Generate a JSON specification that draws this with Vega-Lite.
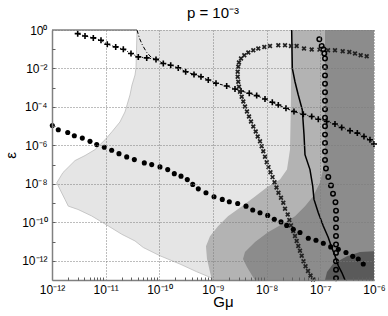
{
 "$schema": "https://vega.github.io/schema/vega-lite/v6.json",
 "width": 322, "height": 250,
 "autosize": {"type": "none"},
 "padding": {"left": 52, "top": 30, "right": 14, "bottom": 36},
 "background": "white",
 "config": {
  "view": {"stroke": null},
  "font": "Liberation Sans",
  "axis": {
   "labelFontSize": 12, "labelColor": "black", "labelFont": "Liberation Sans", "labelOverlap": false, "labelFlush": false, "labelBound": false,
   "domainColor": "#808080", "domainWidth": 1.5,
   "ticks": false,
   "grid": true, "gridColor": "#7a7a7a", "gridDash": [1, 2], "gridWidth": 1,
   "titleFontSize": 15, "titleFontWeight": "normal", "titleColor": "black", "titleFont": "Liberation Sans"
  }
 },
 "title": {"text": "p = 10⁻³", "fontSize": 15, "fontWeight": "normal", "font": "Liberation Sans", "anchor": "middle", "frame": "group", "offset": 9, "dy": 18, "baseline": "alphabetic", "color": "black"},
 "resolve": {"axis": {"x": "independent", "y": "independent"}},
 "datasets": {
  "light": [
   {"lg": -10.416, "le": 0}, {"lg": -10.425, "le": -1.05}, {"lg": -10.435, "le": -1.98}, {"lg": -10.453, "le": -2.34},
   {"lg": -10.509, "le": -2.86}, {"lg": -10.547, "le": -3.38}, {"lg": -10.640, "le": -4.26}, {"lg": -10.733, "le": -4.78},
   {"lg": -10.882, "le": -5.29}, {"lg": -11.012, "le": -5.71}, {"lg": -11.199, "le": -6.22}, {"lg": -11.385, "le": -6.53},
   {"lg": -11.571, "le": -6.79}, {"lg": -11.795, "le": -7.41}, {"lg": -11.912, "le": -7.95}, {"lg": -11.851, "le": -8.29},
   {"lg": -11.758, "le": -8.81}, {"lg": -11.696, "le": -9.16}, {"lg": -11.516, "le": -9.33}, {"lg": -11.260, "le": -9.67},
   {"lg": -10.951, "le": -10.19}, {"lg": -10.701, "le": -10.62}, {"lg": -10.453, "le": -10.97}, {"lg": -10.299, "le": -11.31},
   {"lg": -9.988, "le": -11.74}, {"lg": -9.615, "le": -12.17}, {"lg": -9.304, "le": -12.57}, {"lg": -9.056, "le": -12.86},
   {"lg": -8.963, "le": -13}
  ],
  "medium": [
   {"lg": -7.547, "le": 0}, {"lg": -7.547, "le": -3.64}, {"lg": -7.565, "le": -6.22}, {"lg": -7.621, "le": -7.26},
   {"lg": -7.752, "le": -7.78}, {"lg": -7.975, "le": -8.14}, {"lg": -8.217, "le": -8.66}, {"lg": -8.460, "le": -9.17},
   {"lg": -8.721, "le": -9.69}, {"lg": -8.907, "le": -10.21}, {"lg": -9.056, "le": -10.72}, {"lg": -9.131, "le": -11.24},
   {"lg": -9.112, "le": -11.91}, {"lg": -9.056, "le": -12.59}, {"lg": -9.019, "le": -13}
  ],
  "dark": [
   {"lg": -6.913, "le": 0}, {"lg": -6.913, "le": -6.22}, {"lg": -6.950, "le": -7.26}, {"lg": -7.006, "le": -7.93},
   {"lg": -7.137, "le": -8.66}, {"lg": -7.286, "le": -9.17}, {"lg": -7.472, "le": -9.69}, {"lg": -7.714, "le": -10.10},
   {"lg": -7.975, "le": -10.52}, {"lg": -8.217, "le": -11.03}, {"lg": -8.404, "le": -11.55}, {"lg": -8.441, "le": -11.91},
   {"lg": -8.367, "le": -12.33}, {"lg": -8.255, "le": -12.85}, {"lg": -8.217, "le": -13}
  ],
  "darkest": [
   {"lg": -6.0, "le": -11.50}, {"lg": -6.261, "le": -11.55}, {"lg": -6.503, "le": -11.76}, {"lg": -6.764, "le": -12.17},
   {"lg": -6.876, "le": -12.59}, {"lg": -6.913, "le": -13}
  ],
  "topedge": [{"lg": -12, "lg2": -10.416, "le": 0}],
  "solid": [
   {"lg": -7.534, "le": 0}, {"lg": -7.522, "le": -2.00}, {"lg": -7.472, "le": -2.69}, {"lg": -7.411, "le": -3.38},
   {"lg": -7.336, "le": -4.15}, {"lg": -7.304, "le": -5.45}, {"lg": -7.286, "le": -6.48}, {"lg": -7.193, "le": -7.26},
   {"lg": -7.142, "le": -8.12}, {"lg": -7.118, "le": -8.81}, {"lg": -7.038, "le": -9.50}, {"lg": -6.945, "le": -10.19},
   {"lg": -6.852, "le": -10.79}, {"lg": -6.788, "le": -11.31}, {"lg": -6.727, "le": -11.74}, {"lg": -6.665, "le": -12.26},
   {"lg": -6.602, "le": -12.60}, {"lg": -6.540, "le": -13}
  ],
  "dashed": [
   {"lg": -10.416, "le": 0}, {"lg": -10.370, "le": -0.43}, {"lg": -10.314, "le": -0.79}, {"lg": -10.239, "le": -1.15},
   {"lg": -10.155, "le": -1.41}, {"lg": -10.062, "le": -1.54}
  ],
  "plus": [
   {"lg": -11.521, "le": -0.19}, {"lg": -11.385, "le": -0.31}, {"lg": -11.230, "le": -0.41}, {"lg": -11.087, "le": -0.53},
   {"lg": -10.970, "le": -0.74}, {"lg": -10.813, "le": -0.88}, {"lg": -10.671, "le": -1.00}, {"lg": -10.528, "le": -1.22},
   {"lg": -10.392, "le": -1.40}, {"lg": -10.235, "le": -1.45}, {"lg": -10.062, "le": -1.53}, {"lg": -9.926, "le": -1.74},
   {"lg": -9.788, "le": -1.83}, {"lg": -9.647, "le": -1.97}, {"lg": -9.509, "le": -2.17}, {"lg": -9.354, "le": -2.31},
   {"lg": -9.224, "le": -2.43}, {"lg": -9.088, "le": -2.60}, {"lg": -8.944, "le": -2.77}, {"lg": -8.745, "le": -2.91},
   {"lg": -8.590, "le": -3.07}, {"lg": -8.478, "le": -3.17}, {"lg": -8.324, "le": -3.29}, {"lg": -8.186, "le": -3.41},
   {"lg": -8.031, "le": -3.59}, {"lg": -7.895, "le": -3.76}, {"lg": -7.783, "le": -3.90}, {"lg": -7.640, "le": -4.07},
   {"lg": -7.491, "le": -4.24}, {"lg": -7.317, "le": -4.38}, {"lg": -7.161, "le": -4.50}, {"lg": -7.038, "le": -4.64},
   {"lg": -6.881, "le": -4.76}, {"lg": -6.727, "le": -4.89}, {"lg": -6.602, "le": -5.07}, {"lg": -6.447, "le": -5.24},
   {"lg": -6.311, "le": -5.36}, {"lg": -6.187, "le": -5.54}, {"lg": -6.075, "le": -5.71}, {"lg": -6.0, "le": -5.93}
  ],
  "xs": [
   {"lg": -6.136, "le": -1.36}, {"lg": -6.248, "le": -1.31}, {"lg": -6.354, "le": -1.22}, {"lg": -6.460, "le": -1.14},
   {"lg": -6.583, "le": -1.10}, {"lg": -6.727, "le": -1.05}, {"lg": -6.857, "le": -1.05}, {"lg": -7.016, "le": -1.02},
   {"lg": -7.161, "le": -1.01}, {"lg": -7.304, "le": -0.96}, {"lg": -7.441, "le": -0.83}, {"lg": -7.547, "le": -0.83},
   {"lg": -7.658, "le": -0.79}, {"lg": -7.783, "le": -0.79}, {"lg": -7.938, "le": -0.83}, {"lg": -8.044, "le": -0.88},
   {"lg": -8.156, "le": -0.96}, {"lg": -8.249, "le": -1.05}, {"lg": -8.342, "le": -1.17}, {"lg": -8.417, "le": -1.31},
   {"lg": -8.478, "le": -1.48}, {"lg": -8.516, "le": -1.69}, {"lg": -8.529, "le": -1.91}, {"lg": -8.540, "le": -2.17},
   {"lg": -8.540, "le": -2.43}, {"lg": -8.529, "le": -2.69}, {"lg": -8.516, "le": -2.95}, {"lg": -8.497, "le": -3.21},
   {"lg": -8.465, "le": -3.47}, {"lg": -8.435, "le": -3.72}, {"lg": -8.404, "le": -3.98}, {"lg": -8.367, "le": -4.24},
   {"lg": -8.329, "le": -4.50}, {"lg": -8.292, "le": -4.76}, {"lg": -8.249, "le": -5.02}, {"lg": -8.204, "le": -5.28},
   {"lg": -8.167, "le": -5.54}, {"lg": -8.124, "le": -5.79}, {"lg": -8.093, "le": -6.05}, {"lg": -8.063, "le": -6.31},
   {"lg": -8.031, "le": -6.59}, {"lg": -7.999, "le": -6.88}, {"lg": -7.966, "le": -7.13}, {"lg": -7.929, "le": -7.40},
   {"lg": -7.891, "le": -7.65}, {"lg": -7.854, "le": -7.92}, {"lg": -7.817, "le": -8.19}, {"lg": -7.780, "le": -8.46},
   {"lg": -7.733, "le": -8.72}, {"lg": -7.690, "le": -8.98}, {"lg": -7.658, "le": -9.29}, {"lg": -7.608, "le": -9.59},
   {"lg": -7.578, "le": -9.88}, {"lg": -7.547, "le": -10.16}, {"lg": -7.504, "le": -10.45}, {"lg": -7.472, "le": -10.71},
   {"lg": -7.441, "le": -10.97}, {"lg": -7.411, "le": -11.23}, {"lg": -7.379, "le": -11.48}, {"lg": -7.347, "le": -11.74},
   {"lg": -7.314, "le": -12.02}, {"lg": -7.276, "le": -12.28}, {"lg": -7.230, "le": -12.53}, {"lg": -7.183, "le": -12.77},
   {"lg": -7.137, "le": -12.97}
  ],
  "circles": [
   {"lg": -7.019, "le": -0.48}, {"lg": -6.975, "le": -0.83}, {"lg": -6.945, "le": -1.00}, {"lg": -6.926, "le": -1.22},
   {"lg": -6.913, "le": -1.48}, {"lg": -6.913, "le": -1.92}, {"lg": -6.913, "le": -2.36}, {"lg": -6.913, "le": -2.80},
   {"lg": -6.913, "le": -3.24}, {"lg": -6.913, "le": -3.68}, {"lg": -6.913, "le": -4.12}, {"lg": -6.913, "le": -4.56},
   {"lg": -6.913, "le": -5.00}, {"lg": -6.913, "le": -5.44}, {"lg": -6.913, "le": -5.88}, {"lg": -6.913, "le": -6.32},
   {"lg": -6.913, "le": -6.76}, {"lg": -6.895, "le": -7.20}, {"lg": -6.852, "le": -7.64}, {"lg": -6.802, "le": -8.08},
   {"lg": -6.764, "le": -8.52}, {"lg": -6.718, "le": -8.96}, {"lg": -6.708, "le": -9.40}, {"lg": -6.708, "le": -9.83},
   {"lg": -6.708, "le": -10.27}, {"lg": -6.708, "le": -10.71}, {"lg": -6.708, "le": -11.15}, {"lg": -6.708, "le": -11.59},
   {"lg": -6.708, "le": -12.03}, {"lg": -6.708, "le": -12.47}, {"lg": -6.708, "le": -12.91}
  ],
  "dots": [
   {"lg": -11.994, "le": -4.97}, {"lg": -11.883, "le": -5.19}, {"lg": -11.707, "le": -5.33}, {"lg": -11.584, "le": -5.50},
   {"lg": -11.435, "le": -5.62}, {"lg": -11.292, "le": -5.79}, {"lg": -11.167, "le": -5.96}, {"lg": -11.025, "le": -6.10},
   {"lg": -10.888, "le": -6.25}, {"lg": -10.752, "le": -6.43}, {"lg": -10.608, "le": -6.60}, {"lg": -10.466, "le": -6.74},
   {"lg": -10.280, "le": -6.91}, {"lg": -10.142, "le": -7.00}, {"lg": -9.988, "le": -7.12}, {"lg": -9.844, "le": -7.26},
   {"lg": -9.721, "le": -7.47}, {"lg": -9.596, "le": -7.60}, {"lg": -9.479, "le": -7.78}, {"lg": -9.378, "le": -8.03},
   {"lg": -9.274, "le": -8.26}, {"lg": -9.131, "le": -8.46}, {"lg": -8.981, "le": -8.67}, {"lg": -8.827, "le": -8.81},
   {"lg": -8.696, "le": -8.93}, {"lg": -8.540, "le": -9.02}, {"lg": -8.385, "le": -9.16}, {"lg": -8.260, "le": -9.36},
   {"lg": -8.124, "le": -9.50}, {"lg": -7.981, "le": -9.64}, {"lg": -7.858, "le": -9.84}, {"lg": -7.733, "le": -9.98},
   {"lg": -7.627, "le": -10.16}, {"lg": -7.504, "le": -10.36}, {"lg": -7.379, "le": -10.53}, {"lg": -7.224, "le": -10.83},
   {"lg": -7.081, "le": -10.93}, {"lg": -6.945, "le": -11.09}, {"lg": -6.807, "le": -11.28}, {"lg": -6.665, "le": -11.40},
   {"lg": -6.522, "le": -11.57}, {"lg": -6.397, "le": -11.77}, {"lg": -6.293, "le": -11.91}, {"lg": -6.200, "le": -12.17}
  ]
 },
 "layer": [
  {
   "data": {"name": "light"},
   "mark": {"type": "area", "orient": "horizontal", "color": "#e5e5e5"},
   "encoding": {
    "y": {"field": "le", "type": "quantitative", "scale": {"domain": [-13, 0], "nice": false, "zero": false},
     "axis": {
      "orient": "left", "zindex": 1,
      "title": "ε", "titleX": -37, "titleY": 125, "titleAngle": -90, "titleAlign": "center", "titleBaseline": "alphabetic",
      "values": [-12, -10, -8, -6, -4, -2, 0],
      "labelExpr": "datum.value == 0 ? '10⁰' : datum.value == -2 ? '10⁻²' : datum.value == -4 ? '10⁻⁴' : datum.value == -6 ? '10⁻⁶' : datum.value == -8 ? '10⁻⁸' : datum.value == -10 ? '10⁻¹⁰' : '10⁻¹²'",
      "labelPadding": 5
     }
    },
    "x": {"field": "lg", "type": "quantitative", "scale": {"domain": [-12, -6], "nice": false, "zero": false},
     "axis": {
      "orient": "bottom", "zindex": 1,
      "title": "Gμ", "titleX": 171, "titleY": 26, "titleBaseline": "alphabetic",
      "values": [-12, -11, -10, -9, -8, -7, -6],
      "labelExpr": "datum.value == -12 ? '10⁻¹²' : datum.value == -11 ? '10⁻¹¹' : datum.value == -10 ? '10⁻¹⁰' : datum.value == -9 ? '10⁻⁹' : datum.value == -8 ? '10⁻⁸' : datum.value == -7 ? '10⁻⁷' : '10⁻⁶'",
      "labelPadding": 4
     }
    },
    "x2": {"datum": -6}
   }
  },
  {
   "data": {"name": "light"},
   "mark": {"type": "line", "color": "#bdbdbd", "strokeWidth": 0.8},
   "encoding": {"x": {"field": "lg", "type": "quantitative", "axis": null}, "y": {"field": "le", "type": "quantitative", "axis": null}, "order": {"field": "le", "sort": "descending"}}
  },
  {
   "data": {"name": "medium"},
   "mark": {"type": "area", "orient": "horizontal", "color": "#b3b3b3"},
   "encoding": {"x": {"field": "lg", "type": "quantitative", "axis": null}, "y": {"field": "le", "type": "quantitative", "axis": null}, "x2": {"datum": -6}}
  },
  {
   "data": {"name": "dark"},
   "mark": {"type": "area", "orient": "horizontal", "color": "#8c8c8c"},
   "encoding": {"x": {"field": "lg", "type": "quantitative", "axis": null}, "y": {"field": "le", "type": "quantitative", "axis": null}, "x2": {"datum": -6}}
  },
  {
   "data": {"name": "darkest"},
   "mark": {"type": "area", "orient": "horizontal", "color": "#5a5a5a"},
   "encoding": {"x": {"field": "lg", "type": "quantitative", "axis": null}, "y": {"field": "le", "type": "quantitative", "axis": null}, "x2": {"datum": -6}}
  },
  {
   "data": {"name": "topedge"},
   "mark": {"type": "rule", "color": "#808080", "strokeWidth": 1.5},
   "encoding": {
    "x": {"field": "lg", "type": "quantitative",
     "axis": {"orient": "bottom", "zindex": 1, "title": null, "labels": false, "domain": false, "grid": false, "ticks": true, "tickSize": -3, "tickColor": "#606060", "tickWidth": 1,
      "values": [-11.699, -11.523, -11.398, -11.301, -11.222, -11.155, -11.097, -11.046,
                 -10.699, -10.523, -10.398, -10.301, -10.222, -10.155, -10.097, -10.046,
                 -9.699, -9.523, -9.398, -9.301, -9.222, -9.155, -9.097, -9.046,
                 -8.699, -8.523, -8.398, -8.301, -8.222, -8.155, -8.097, -8.046,
                 -7.699, -7.523, -7.398, -7.301, -7.222, -7.155, -7.097, -7.046,
                 -6.699, -6.523, -6.398, -6.301, -6.222, -6.155, -6.097, -6.046]}},
    "x2": {"field": "lg2"},
    "y": {"field": "le", "type": "quantitative",
     "axis": {"orient": "left", "zindex": 1, "title": null, "labels": false, "domain": false, "grid": false, "ticks": true, "tickSize": -3, "tickColor": "#606060", "tickWidth": 1,
      "values": [-12, -11, -10, -9, -8, -7, -6, -5, -4, -3, -2, -1]}}
   }
  },
  {
   "data": {"name": "solid"},
   "mark": {"type": "line", "color": "black", "strokeWidth": 1.5},
   "encoding": {"x": {"field": "lg", "type": "quantitative", "axis": null}, "y": {"field": "le", "type": "quantitative", "axis": null}, "order": {"field": "le", "sort": "descending"}}
  },
  {
   "data": {"name": "dashed"},
   "mark": {"type": "line", "color": "black", "strokeWidth": 1, "strokeDash": [4, 2, 1, 2]},
   "encoding": {"x": {"field": "lg", "type": "quantitative", "axis": null}, "y": {"field": "le", "type": "quantitative", "axis": null}}
  },
  {
   "data": {"name": "plus"},
   "mark": {"type": "line", "color": "black", "strokeWidth": 1, "strokeDash": [3, 2, 1, 2]},
   "encoding": {"x": {"field": "lg", "type": "quantitative", "axis": null}, "y": {"field": "le", "type": "quantitative", "axis": null}}
  },
  {
   "data": {"name": "plus"},
   "mark": {"type": "point", "shape": "M-1,0L1,0M0,-1L0,1", "filled": false, "color": "black", "strokeWidth": 1.6, "size": 36, "opacity": 1},
   "encoding": {"x": {"field": "lg", "type": "quantitative", "axis": null}, "y": {"field": "le", "type": "quantitative", "axis": null}}
  },
  {
   "data": {"name": "xs"},
   "mark": {"type": "point", "shape": "M-1,-1L1,1M1,-1L-1,1", "filled": false, "color": "#222222", "strokeWidth": 1.7, "size": 14, "opacity": 1},
   "encoding": {"x": {"field": "lg", "type": "quantitative", "axis": null}, "y": {"field": "le", "type": "quantitative", "axis": null}}
  },
  {
   "data": {"name": "circles"},
   "mark": {"type": "point", "shape": "circle", "filled": false, "color": "black", "strokeWidth": 1.5, "size": 20, "opacity": 1},
   "encoding": {"x": {"field": "lg", "type": "quantitative", "axis": null}, "y": {"field": "le", "type": "quantitative", "axis": null}}
  },
  {
   "data": {"name": "dots"},
   "mark": {"type": "point", "shape": "circle", "filled": true, "color": "black", "size": 26, "opacity": 1},
   "encoding": {"x": {"field": "lg", "type": "quantitative", "axis": null}, "y": {"field": "le", "type": "quantitative", "axis": null}}
  }
 ]
}
